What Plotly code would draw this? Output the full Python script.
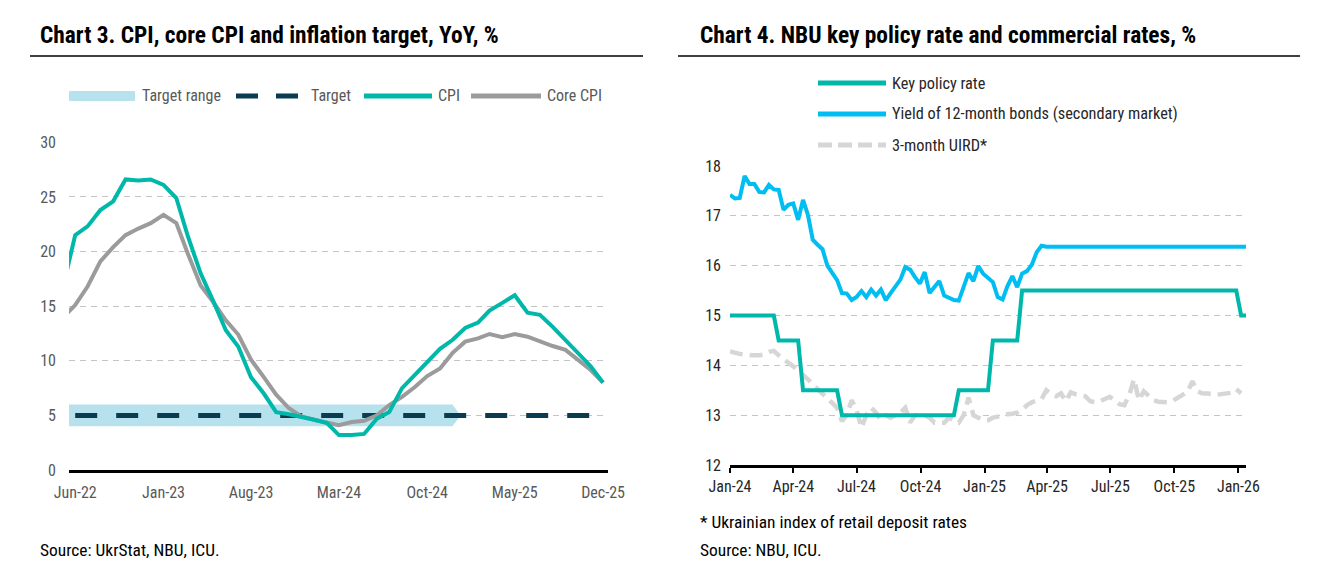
import pandas as pd
import plotly.graph_objects as go

W, H = 1319, 583
FONT = "Liberation Sans Narrow, Arial Narrow, Roboto Condensed, DejaVu Sans Condensed, Liberation Sans, sans-serif"

# ---------------- Chart 3 data (monthly, YoY %) ----------------
months3 = pd.date_range("2022-05-01", "2025-12-01", freq="MS")
cpi = [16.5, 21.5, 22.3, 23.8, 24.6, 26.6, 26.5, 26.6,
       26.1, 24.9, 21.4, 18.0, 15.5, 12.8, 11.3, 8.5, 7.0, 5.3, 5.1, 4.9,
       4.6, 4.3, 3.2, 3.2, 3.3, 4.7, 5.3, 7.5, 8.7, 9.9, 11.1, 11.9,
       13.0, 13.5, 14.6, 15.3, 16.0, 14.4, 14.2, 13.1, 11.9, 10.8, 9.5, 8.0]
core_cpi = [13.9, 15.1, 16.8, 19.1, 20.4, 21.5, 22.1, 22.6,
            23.35, 22.6, 19.8, 16.9, 15.4, 13.7, 12.4, 10.1, 8.5, 6.9, 5.65, 4.9,
            4.6, 4.3, 4.1, 4.4, 4.5, 5.0, 5.95, 6.7, 7.6, 8.6, 9.3, 10.7,
            11.75, 12.05, 12.45, 12.15, 12.45, 12.2, 11.75, 11.35, 11.0, 10.1, 9.15, 8.0]
band_months = pd.date_range("2022-05-01", "2024-12-01", freq="MS")
band_lower = [4.0] * len(band_months)
band_upper = [6.0] * len(band_months)
target_months = pd.date_range("2022-06-01", "2025-12-01", freq="MS")
target = [5.0] * len(target_months)
x3_ticks = ["2022-06-01", "2023-01-01", "2023-08-01", "2024-03-01", "2024-10-01", "2025-05-01", "2025-12-01"]
x3_labels = ["Jun-22", "Jan-23", "Aug-23", "Mar-24", "Oct-24", "May-25", "Dec-25"]

# ---------------- Chart 4 data (weekly, %) ----------------
weeks = pd.date_range("2024-01-01", periods=107, freq="7D")
key_rate_dates = ["2024-01-01", "2024-03-04", "2024-03-11", "2024-04-08", "2024-04-15",
                  "2024-06-03", "2024-06-10", "2024-11-18", "2024-11-25", "2025-01-06",
                  "2025-01-13", "2025-02-17", "2025-02-24", "2025-12-29", "2026-01-05", "2026-01-12"]
key_rate = [15.0, 15.0, 14.5, 14.5, 13.5, 13.5, 13.0, 13.0, 13.5, 13.5,
            14.5, 14.5, 15.5, 15.5, 15.0, 15.0]
bond_yield = [17.42, 17.35, 17.36, 17.80, 17.64, 17.64, 17.48, 17.47, 17.62, 17.53,
              17.52, 17.12, 17.22, 17.25, 16.92, 17.32, 17.02, 16.52, 16.42, 16.33,
              16.00, 15.85, 15.71, 15.45, 15.44, 15.31, 15.37, 15.49, 15.37, 15.52,
              15.40, 15.52, 15.31, 15.45, 15.60, 15.72, 15.97, 15.92, 15.77, 15.64,
              15.87, 15.45, 15.57, 15.69, 15.40, 15.35, 15.31, 15.30, 15.59, 15.85,
              15.69, 15.99, 15.84, 15.75, 15.67, 15.37, 15.32, 15.59, 15.79, 15.57,
              15.84, 15.89, 16.02, 16.27, 16.40, 16.38, 16.38]
bond_dates = list(weeks[:66]) + [weeks[106]]
uird = [14.28, 14.25, 14.23, 14.22, 14.20, 14.20, 14.20, 14.22, 14.27, 14.29,
        14.20, 14.11, 14.05, 13.98, 13.90, 13.82, 13.72, 13.62, 13.52, 13.42,
        13.33, 13.25, 13.15, 12.88, 13.00, 13.30, 13.10, 12.75, 13.00, 13.15,
        13.05, 12.90, 13.00, 12.95, 13.00, 13.05, 13.15, 12.85, 13.00, 13.00,
        13.00, 12.95, 12.85, 12.85, 12.85, 12.95, 12.90, 12.85, 13.00, 13.35,
        13.00, 12.95, 12.90, 12.90, 12.95, 12.97, 13.00, 13.02, 13.03, 13.05,
        13.10, 13.20, 13.26, 13.28, 13.32, 13.50, 13.42, 13.38, 13.44, 13.28,
        13.46, 13.42, 13.40, 13.38, 13.28, 13.26, 13.28, 13.33, 13.37, 13.30,
        13.22, 13.20, 13.40, 13.72, 13.30, 13.48, 13.38, 13.30, 13.27, 13.26,
        13.26, 13.29, 13.35, 13.40, 13.47, 13.68, 13.48, 13.44, 13.44, 13.43,
        13.41, 13.43, 13.44, 13.45, 13.52, 13.44]
uird_dates = weeks[:len(uird)]
x4_ticks = ["2024-01-01", "2024-04-01", "2024-07-01", "2024-10-01", "2025-01-01",
            "2025-04-01", "2025-07-01", "2025-10-01", "2026-01-01"]
x4_labels = ["Jan-24", "Apr-24", "Jul-24", "Oct-24", "Jan-25", "Apr-25", "Jul-25", "Oct-25", "Jan-26"]

# ---------------- colours ----------------
TEAL = "#00B8AA"
SKY = "#00BEF2"
GREY = "#9B9B9B"
NAVY = "#0B3B50"
BAND = "#B7E1ED"
LGREY = "#D6D6D6"
GRID = "#C4C4C4"
TXT_L = "#595959"
TXT_R = "#262626"


def px(x):
    return x / W


def py(y):
    return 1 - y / H


fig = go.Figure()

# target range arrow band, built from the band arrays
tip = band_months[-1] + pd.Timedelta(days=20)
band_x = list(band_months) + [tip] + list(band_months[::-1])
band_y = band_upper + [(band_upper[-1] + band_lower[-1]) / 2] + band_lower[::-1]
fig.add_trace(go.Scatter(x=band_x, y=band_y, fill="toself", fillcolor=BAND, mode="lines",
                         line=dict(width=0, color=BAND), name="Target range",
                         xaxis="x", yaxis="y", hoverinfo="skip"))
fig.add_trace(go.Scatter(x=target_months, y=target, mode="lines", name="Target",
                         line=dict(color=NAVY, width=5, dash="22px,19px"), xaxis="x", yaxis="y"))
fig.add_trace(go.Scatter(x=months3, y=core_cpi, mode="lines", name="Core CPI",
                         line=dict(color=GREY, width=4), xaxis="x", yaxis="y"))
fig.add_trace(go.Scatter(x=months3, y=cpi, mode="lines", name="CPI",
                         line=dict(color=TEAL, width=4), xaxis="x", yaxis="y"))

# chart 4 traces
fig.add_trace(go.Scatter(x=uird_dates, y=uird, mode="lines", name="3-month UIRD*",
                         line=dict(color=LGREY, width=4.5, dash="13px,7px"), xaxis="x2", yaxis="y2"))
fig.add_trace(go.Scatter(x=key_rate_dates, y=key_rate, mode="lines", name="Key policy rate",
                         line=dict(color=TEAL, width=4), xaxis="x2", yaxis="y2"))
fig.add_trace(go.Scatter(x=bond_dates, y=bond_yield, mode="lines",
                         name="Yield of 12-month bonds (secondary market)",
                         line=dict(color=SKY, width=4), xaxis="x2", yaxis="y2"))

axis_font_l = dict(family=FONT, size=16, color=TXT_L)
axis_font_r = dict(family=FONT, size=16, color=TXT_R)

fig.update_layout(
    width=W, height=H, margin=dict(l=0, r=0, t=0, b=0, autoexpand=False),
    paper_bgcolor="white", plot_bgcolor="white", showlegend=False,
    font=dict(family=FONT),
    xaxis=dict(domain=[px(69), px(608)], type="date", range=["2022-05-17", "2025-12-13"],
               tickvals=x3_ticks, ticktext=x3_labels, tickfont=axis_font_l,
               showgrid=False, zeroline=False, showline=True, linecolor="black", linewidth=2.5,
               ticks="", ticklabelstandoff=6, anchor="y"),
    yaxis=dict(domain=[py(470), py(142.3)], range=[0, 30], tickvals=[0, 5, 10, 15, 20, 25, 30],
               tickfont=axis_font_l, showgrid=True, gridcolor=GRID, griddash="6px,5px", gridwidth=1,
               zeroline=False, showline=False, ticks="", ticklabelstandoff=12, anchor="x"),
    xaxis2=dict(domain=[px(730), px(1246)], type="date", range=["2024-01-01", "2026-01-12"],
                tickvals=x4_ticks, ticktext=x4_labels, tickfont=axis_font_r,
                showgrid=False, zeroline=False, showline=True, linecolor="black", linewidth=2.5,
                ticks="outside", ticklen=5, tickwidth=2, tickcolor="black", anchor="y2"),
    yaxis2=dict(domain=[py(465), py(166)], range=[12, 18], tickvals=[12, 13, 14, 15, 16, 17, 18],
                tickfont=axis_font_r, showgrid=True, gridcolor=GRID, griddash="6px,5px", gridwidth=1,
                zeroline=False, showline=False, ticks="", ticklabelstandoff=8, anchor="x2"),
)

shapes = []
annotations = []


def hline(x0, x1, y, color, width, dash=None):
    d = dict(type="line", xref="paper", yref="paper", x0=px(x0), x1=px(x1), y0=py(y), y1=py(y),
             line=dict(color=color, width=width))
    if dash:
        d["line"]["dash"] = dash
    shapes.append(d)


def text(x, y, s, size, color, bold=False):
    annotations.append(dict(xref="paper", yref="paper", x=px(x), y=py(y), text=f"<b>{s}</b>" if bold else s,
                            showarrow=False, xanchor="left", yanchor="middle",
                            font=dict(family=FONT, size=size, color=color)))


# titles and rules
text(38, 35, "Chart 3. CPI, core CPI and inflation target, YoY, %", 23.4, "black", bold=True)
text(698, 35, "Chart 4. NBU key policy rate and commercial rates, %", 23.4, "black", bold=True)
hline(30, 643, 56, "black", 1.5)
hline(678, 1300, 56, "black", 1.5)

# legend chart 3
shapes.append(dict(type="rect", xref="paper", yref="paper", x0=px(69), x1=px(135), y0=py(101), y1=py(91),
                   fillcolor=BAND, line=dict(width=0)))
text(140, 96, "Target range", 16, TXT_L)
hline(236, 299, 96, NAVY, 5, dash="22px,18px")
text(309, 96, "Target", 16, TXT_L)
hline(364, 432, 96, TEAL, 5)
text(436, 96, "CPI", 16, TXT_L)
hline(471, 541, 96, GREY, 5)
text(545, 96, "Core CPI", 16, TXT_L)

# legend chart 4
hline(818, 886, 83, TEAL, 5)
text(890, 83, "Key policy rate", 16.3, TXT_R)
hline(818, 886, 114, SKY, 5)
text(890, 114, "Yield of 12-month bonds (secondary market)", 16.3, TXT_R)
hline(818, 886, 145, LGREY, 5, dash="14px,6px")
text(890, 145, "3-month UIRD*", 16.3, TXT_R)

# footnotes
text(38, 550, "Source: UkrStat, NBU, ICU.", 17.4, "black")
text(698, 522, "* Ukrainian index of retail deposit rates", 17.4, "black")
text(698, 550, "Source: NBU, ICU.", 17.4, "black")

fig.update_layout(shapes=shapes, annotations=annotations)
fig.write_html("out.html", post_script="document.body.style.margin='0';",
               config={"displayModeBar": False})
